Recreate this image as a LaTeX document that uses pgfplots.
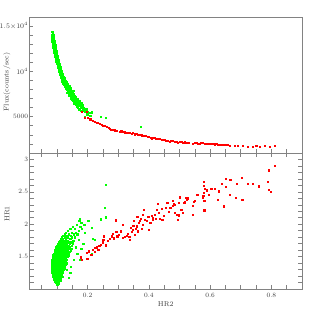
\documentclass[border=0pt]{standalone}
\usepackage{pgfplots}
\pgfplotsset{compat=1.18}
\definecolor{framegray}{RGB}{130,130,130}
\definecolor{textgray}{RGB}{60,60,60}
\definecolor{ptgreen}{RGB}{0,255,0}
\definecolor{ptred}{RGB}{255,0,0}
\pgfplotsset{
 common/.style={scale only axis, width=272.5bp, height=136bp,
  xmin=0.01, xmax=0.9,
  scaled ticks=false,
  axis line style={framegray, line width=0.6pt},
  every tick/.style={framegray, line width=0.6pt},
  major tick length=4bp, minor tick length=4bp,
  tick align=inside,
  xtick={0.2,0.4,0.6,0.8},
  minor xtick={0.05,0.1,0.15,0.25,0.3,0.35,0.45,0.5,0.55,0.65,0.7,0.75,0.85},
  ticklabel style={font=\fontsize{6.6}{7.5}\selectfont, text=textgray, inner sep=1.2bp},
  every axis label/.append style={font=\fontsize{7}{8}\selectfont, text=textgray},
  every axis x label/.style={at={(axis description cs:0.5,0)}, anchor=center, yshift=-15bp},
 },
 gpt/.style={only marks, color=ptgreen, mark=square*, mark size=0.65bp, mark options={solid, fill=ptgreen, draw=ptgreen, line width=0.1pt}},
 rpt/.style={only marks, color=ptred, mark=square*, mark size=0.6bp, mark options={solid, fill=ptred, draw=ptred, line width=0.1pt}},
}
\begin{document}
\begin{tikzpicture}
\path[use as bounding box] (-29.5bp,-30bp) rectangle (289.5bp,289bp);
% ---------------- top panel ----------------
\begin{axis}[common, at={(0,136bp)}, anchor=south west,
  ymin=1000, ymax=16000, tick pos=left,
  xticklabels={},
  ytick={5000,10000,15000},
  yticklabels={5000,$10^4$,$1.5{\times}10^4$},
  minor ytick={2000,3000,4000,6000,7000,8000,9000,11000,12000,13000,14000,16000},
  every axis y label/.style={at={(axis description cs:0,0.5)}, xshift=-22.5bp, yshift=3bp, rotate=90, anchor=center},
  ylabel={Flux(counts/sec)}]
\addplot[gpt] coordinates {
(0.084,14400) (0.083,14100) (0.086,14200) (0.082,13900) (0.085,13800) (0.088,13700) (0.084,13600) (0.087,13500)
(0.090,13400) (0.083,13300) (0.086,13250) (0.089,13200) (0.092,13100) (0.085,13000) (0.088,12950) (0.091,12900)
(0.094,12850) (0.087,12800) (0.090,12700) (0.093,12650) (0.086,12600) (0.089,12550) (0.092,12500) (0.095,12450)
(0.088,12400) (0.091,12350) (0.094,12300) (0.097,12250) (0.090,12200) (0.093,12150) (0.096,12100) (0.089,12050)
(0.092,12000) (0.095,11950) (0.098,11900) (0.091,11850) (0.094,11800) (0.097,11750) (0.100,11700) (0.093,11650)
(0.096,11600) (0.099,11550) (0.102,11500) (0.095,11450) (0.098,11400) (0.101,11350) (0.104,11300) (0.097,11250)
(0.100,11200) (0.103,11150) (0.096,11100) (0.099,11050) (0.102,11000) (0.105,10950) (0.108,10900) (0.100,10850)
(0.103,10800) (0.106,10750) (0.109,10700) (0.101,10650) (0.104,10600) (0.107,10550) (0.110,10500) (0.103,10450)
(0.106,10400) (0.109,10350) (0.112,10300) (0.104,10250) (0.107,10200) (0.110,10150) (0.113,10100) (0.106,10050)
(0.109,10000) (0.112,9950) (0.115,9900) (0.108,9850) (0.111,9800) (0.114,9750) (0.117,9700) (0.110,9650)
(0.113,9600) (0.116,9550) (0.119,9500) (0.112,9450) (0.115,9400) (0.118,9350) (0.121,9300) (0.124,9250)
(0.114,9200) (0.117,9150) (0.120,9100) (0.123,9050) (0.126,9000) (0.116,8950) (0.119,8900) (0.122,8850)
(0.125,8800) (0.128,8750) (0.120,8700) (0.123,8650) (0.127,8600) (0.131,8550) (0.124,8500) (0.128,8450)
(0.132,8400) (0.136,8350) (0.126,8300) (0.130,8250) (0.134,8200) (0.138,8150) (0.142,8100) (0.131,8000)
(0.136,7950) (0.141,7900) (0.146,7850) (0.135,7800) (0.140,7700) (0.145,7650) (0.150,7600) (0.138,7550)
(0.144,7500) (0.150,7400) (0.156,7350) (0.142,7300) (0.148,7250) (0.154,7200) (0.160,7100) (0.146,7050)
(0.152,7000) (0.158,6950) (0.165,6900) (0.150,6850) (0.157,6800) (0.163,6700) (0.170,6650) (0.155,6600)
(0.162,6550) (0.168,6450) (0.175,6400) (0.160,6350) (0.166,6300) (0.172,6200) (0.180,6150) (0.168,6050)
(0.176,6000) (0.185,5950) (0.195,5850) (0.178,5700) (0.190,5550) (0.205,5450) (0.189,5000) (0.241,5040)
(0.259,4890) (0.372,3890) (0.208,5150) (0.198,5300)
(0.085,14300) (0.087,14000) (0.084,13450) (0.089,13550) (0.087,13150) (0.091,13300) (0.090,12850) (0.093,12950)
(0.088,12250) (0.095,12650) (0.097,12000) (0.094,11550) (0.100,11400) (0.098,11100) (0.104,11050) (0.102,10700)
(0.108,10450) (0.111,10250) (0.105,10150) (0.114,9850) (0.107,9950) (0.118,9650) (0.111,9550) (0.121,9400)
(0.118,9000) (0.113,9300) (0.129,8900) (0.121,8550) (0.134,8650) (0.139,8450) (0.127,8150) (0.145,8250)
(0.133,7700) (0.152,7900) (0.139,7350) (0.155,7550) (0.147,6900) (0.161,7250) (0.167,7000) (0.153,6450)
(0.172,6750) (0.178,6500) (0.164,6100) (0.183,6300) (0.172,5850) (0.186,5700) (0.200,5600) (0.213,5500)
};
\addplot[rpt] coordinates {
(0.179,5590) (0.196,5590) (0.190,4930) (0.200,4930) (0.208,4750) (0.215,4560) (0.223,4440) (0.228,4380)
(0.233,4330) (0.238,4250) (0.245,4110) (0.250,4050) (0.256,3990) (0.262,3890) (0.268,3780) (0.272,3700)
(0.276,3630) (0.280,3560) (0.288,3520) (0.295,3470) (0.304,3400) (0.309,3430) (0.314,3380) (0.320,3300)
(0.327,3220) (0.332,3260) (0.337,3220) (0.342,3150) (0.347,3220) (0.352,3080) (0.358,3110) (0.364,3000)
(0.370,3060) (0.376,2990) (0.381,2950) (0.386,2900) (0.390,2960) (0.395,2850) (0.400,2800) (0.405,2730)
(0.408,2630) (0.412,2680) (0.418,2700) (0.423,2620) (0.429,2560) (0.434,2600) (0.440,2520) (0.446,2480)
(0.451,2440) (0.456,2400) (0.462,2370) (0.467,2260) (0.472,2330) (0.478,2370) (0.484,2260) (0.489,2300)
(0.494,2190) (0.500,2230) (0.505,2260) (0.511,2150) (0.516,2200) (0.522,2190) (0.528,2130) (0.543,2080)
(0.548,2120) (0.554,2150) (0.560,2050) (0.565,2080) (0.570,2110) (0.576,2150) (0.581,2060) (0.587,2080)
(0.592,2030) (0.598,2000) (0.603,2050) (0.609,2080) (0.614,1990) (0.620,2000) (0.625,1890) (0.630,1950)
(0.636,1960) (0.641,1900) (0.647,1890) (0.652,1930) (0.657,1890) (0.663,1810) (0.679,1810) (0.690,1780)
(0.706,1780) (0.723,1700) (0.739,1700) (0.750,1780) (0.761,1700) (0.777,1780) (0.793,1700) (0.810,1780)
};
\end{axis}
% ---------------- bottom panel ----------------
\begin{axis}[common, at={(0,0)}, anchor=south west,
  ymin=1.0, ymax=3.1,
  xticklabels={0.2,0.4,0.6,0.8},
  ytick={1.5,2,2.5,3},
  yticklabels={1.5,2,2.5,3},
  minor ytick={1.1,1.2,1.3,1.4,1.6,1.7,1.8,1.9,2.1,2.2,2.3,2.4,2.6,2.7,2.8,2.9},
  xticklabel style={anchor=center, yshift=-6.7bp},
  every axis y label/.style={at={(axis description cs:0,0.5)}, xshift=-22.5bp, yshift=7bp, rotate=90, anchor=center},
  xlabel={HR2}, ylabel={HR1}]
\addplot[gpt] coordinates {
(0.100,1.075)
(0.097,1.10) (0.103,1.10)
(0.093,1.125) (0.099,1.125) (0.105,1.125)
(0.090,1.15) (0.096,1.15) (0.102,1.15) (0.108,1.15)
(0.088,1.175) (0.094,1.175) (0.100,1.175) (0.106,1.175) (0.111,1.175)
(0.086,1.20) (0.092,1.20) (0.098,1.20) (0.104,1.20) (0.110,1.20)
(0.085,1.225) (0.091,1.225) (0.097,1.225) (0.103,1.225) (0.109,1.225) (0.115,1.225)
(0.084,1.25) (0.090,1.25) (0.096,1.25) (0.102,1.25) (0.108,1.25) (0.114,1.25) (0.118,1.25)
(0.083,1.275) (0.089,1.275) (0.095,1.275) (0.101,1.275) (0.107,1.275) (0.113,1.275) (0.119,1.275)
(0.082,1.30) (0.088,1.30) (0.094,1.30) (0.100,1.30) (0.106,1.30) (0.112,1.30) (0.118,1.30) (0.122,1.30)
(0.083,1.325) (0.089,1.325) (0.095,1.325) (0.101,1.325) (0.107,1.325) (0.113,1.325) (0.119,1.325) (0.125,1.325)
(0.082,1.35) (0.088,1.35) (0.094,1.35) (0.100,1.35) (0.106,1.35) (0.112,1.35) (0.118,1.35) (0.124,1.35)
(0.083,1.375) (0.089,1.375) (0.095,1.375) (0.101,1.375) (0.107,1.375) (0.113,1.375) (0.119,1.375) (0.126,1.375)
(0.082,1.40) (0.088,1.40) (0.094,1.40) (0.100,1.40) (0.106,1.40) (0.112,1.40) (0.118,1.40) (0.124,1.40) (0.129,1.40)
(0.084,1.425) (0.090,1.425) (0.096,1.425) (0.102,1.425) (0.108,1.425) (0.114,1.425) (0.120,1.425) (0.126,1.425)
(0.083,1.45) (0.089,1.45) (0.095,1.45) (0.101,1.45) (0.107,1.45) (0.113,1.45) (0.119,1.45) (0.125,1.45) (0.131,1.45)
(0.085,1.475) (0.091,1.475) (0.097,1.475) (0.103,1.475) (0.109,1.475) (0.115,1.475) (0.121,1.475) (0.127,1.475)
(0.086,1.50) (0.092,1.50) (0.098,1.50) (0.104,1.50) (0.110,1.50) (0.116,1.50) (0.122,1.50) (0.128,1.50) (0.134,1.50)
(0.087,1.525) (0.093,1.525) (0.099,1.525) (0.105,1.525) (0.111,1.525) (0.117,1.525) (0.123,1.525) (0.129,1.525) (0.136,1.525)
(0.089,1.55) (0.095,1.55) (0.101,1.55) (0.107,1.55) (0.113,1.55) (0.119,1.55) (0.125,1.55) (0.131,1.55) (0.138,1.55)
(0.091,1.575) (0.097,1.575) (0.103,1.575) (0.109,1.575) (0.115,1.575) (0.121,1.575) (0.127,1.575) (0.133,1.575) (0.140,1.575)
(0.093,1.60) (0.099,1.60) (0.105,1.60) (0.111,1.60) (0.117,1.60) (0.123,1.60) (0.129,1.60) (0.135,1.60) (0.143,1.60)
(0.095,1.625) (0.101,1.625) (0.107,1.625) (0.113,1.625) (0.119,1.625) (0.125,1.625) (0.131,1.625) (0.138,1.625) (0.146,1.625)
(0.097,1.65) (0.103,1.65) (0.109,1.65) (0.115,1.65) (0.121,1.65) (0.127,1.65) (0.133,1.65) (0.140,1.65)
(0.099,1.675) (0.105,1.675) (0.111,1.675) (0.117,1.675) (0.123,1.675) (0.129,1.675) (0.136,1.675) (0.148,1.675)
(0.102,1.70) (0.108,1.70) (0.114,1.70) (0.120,1.70) (0.126,1.70) (0.132,1.70) (0.140,1.70) (0.150,1.70)
(0.105,1.725) (0.111,1.725) (0.117,1.725) (0.123,1.725) (0.130,1.725) (0.138,1.725) (0.145,1.725)
(0.108,1.75) (0.114,1.75) (0.121,1.75) (0.128,1.75) (0.135,1.75) (0.152,1.75)
(0.112,1.775) (0.119,1.775) (0.127,1.775) (0.142,1.775)
(0.115,1.80) (0.124,1.80) (0.133,1.80) (0.148,1.80) (0.158,1.80)
(0.118,1.825) (0.130,1.825) (0.145,1.825)
(0.125,1.85) (0.138,1.85) (0.155,1.85) (0.165,1.85)
(0.128,1.875) (0.148,1.875) (0.160,1.875)
(0.135,1.90) (0.170,1.90)
(0.142,1.93) (0.158,1.93) (0.180,1.93)
(0.150,1.96) (0.175,1.96)
(0.163,2.00) (0.188,2.00)
(0.178,2.03)
(0.172,2.06) (0.201,2.06)
(0.174,2.08) (0.241,2.08)
(0.190,1.87) (0.212,1.948) (0.196,1.562) (0.174,1.458) (0.223,1.768) (0.259,2.617) (0.255,2.257) (0.259,2.112)
(0.217,1.783) (0.212,1.546) (0.160,1.65) (0.165,1.55) (0.155,1.45) (0.145,1.35) (0.150,1.72) (0.142,1.25)
(0.170,1.76) (0.178,1.62) (0.185,1.70) (0.138,1.18) (0.130,1.30) (0.104,1.09) (0.110,1.14) (0.116,1.19)
};
\addplot[rpt] coordinates {
(0.177,1.494) (0.198,1.474) (0.196,1.562) (0.204,1.587) (0.217,1.613) (0.223,1.639) (0.228,1.655) (0.234,1.613)
(0.237,1.675) (0.241,1.690) (0.248,1.726) (0.250,1.767) (0.252,1.819) (0.259,1.680) (0.266,1.742) (0.272,1.778)
(0.277,1.819) (0.280,1.860) (0.285,1.788) (0.291,2.066) (0.293,1.881) (0.296,1.819) (0.302,1.845) (0.307,1.896)
(0.313,1.793) (0.315,1.999) (0.321,1.809) (0.326,1.829) (0.331,1.860) (0.335,1.809) (0.337,1.767) (0.339,1.948)
(0.342,1.881) (0.346,1.912) (0.348,1.984) (0.350,2.051) (0.353,1.845) (0.356,1.932) (0.359,1.973) (0.361,2.118)
(0.364,1.896) (0.367,2.025) (0.369,2.051) (0.372,2.087) (0.375,1.932) (0.378,1.999) (0.380,2.154) (0.383,2.231)
(0.386,2.077) (0.391,2.051) (0.397,2.118) (0.400,1.922) (0.404,2.025) (0.408,2.128) (0.411,2.102) (0.413,2.077)
(0.418,2.154) (0.422,2.087) (0.426,2.231) (0.429,2.324) (0.432,2.180) (0.435,2.087) (0.440,2.241) (0.443,2.077)
(0.448,2.128) (0.454,2.257) (0.459,2.334) (0.465,2.190) (0.469,2.257) (0.476,2.283) (0.478,2.360) (0.480,2.324)
(0.483,2.180) (0.489,2.154) (0.494,2.077) (0.497,2.334) (0.500,2.411) (0.505,2.231) (0.511,2.180) (0.516,2.344)
(0.522,2.386) (0.527,2.396) (0.543,2.283) (0.549,2.360) (0.556,2.463)
(0.810,2.911) (0.791,2.838) (0.788,2.653) (0.790,2.540) (0.797,2.505) (0.757,2.591) (0.739,2.628) (0.723,2.628)
(0.703,2.726) (0.704,2.386) (0.685,2.628) (0.683,2.412) (0.665,2.684) (0.650,2.706) (0.649,2.576) (0.663,2.463)
(0.644,2.282) (0.636,2.628) (0.628,2.514) (0.625,2.386) (0.614,2.551) (0.603,2.556) (0.596,2.463) (0.587,2.529)
(0.579,2.653) (0.579,2.601) (0.583,2.551) (0.579,2.489) (0.577,2.437) (0.580,2.360) (0.580,2.220) (0.574,2.412)
(0.558,2.463) (0.547,2.350) (0.543,2.154) (0.527,2.412) (0.520,2.412) (0.513,2.334) (0.500,2.421) (0.498,2.143)
(0.494,2.076) (0.484,2.308) (0.179,1.458) (0.223,1.577) (0.228,1.639) (0.211,1.530)
};
\end{axis}
\end{tikzpicture}
\end{document}
